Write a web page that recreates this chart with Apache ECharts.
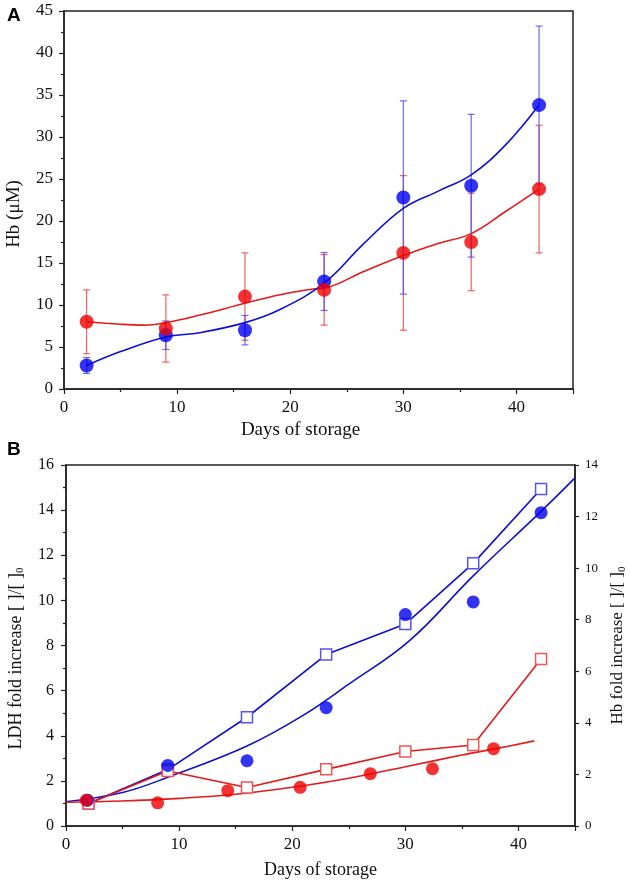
<!DOCTYPE html>
<html><head><meta charset="utf-8">
<script src="https://cdn.jsdelivr.net/npm/echarts@6/dist/echarts.min.js"></script>
<style>html,body{margin:0;padding:0;background:#fff}#c{width:630px;height:886px}</style>
</head><body><div id="c"></div>
<script>
// ---------- Panel A data ----------
const days = [2, 9, 16, 23, 30, 36, 42];
const hbBlue = [2.8, 6.4, 7.0, 12.8, 22.8, 24.2, 33.8];
const hbBlueErr = [0.95, 1.7, 1.75, 3.45, 11.5, 8.5, 9.4];
const hbRed = [8.0, 7.2, 11.0, 11.8, 16.2, 17.5, 23.8];
const hbRedErr = [3.8, 4.0, 5.2, 4.2, 9.2, 5.8, 7.6];
const fitADays = [2, 5, 9, 12, 16, 19, 23, 26.5, 30, 33, 36, 39, 42];
const fitABlue = [2.8, 4.45, 6.2, 6.7, 7.9, 9.4, 12.6, 17.3, 21.5, 23.5, 25.5, 29.0, 33.8];
const fitARedDays = [2, 5, 7, 9, 12, 16, 19, 22, 23, 26.5, 30, 33, 36, 39, 42];
const fitARed = [8.0, 7.7, 7.6, 7.9, 8.8, 10.2, 11.2, 11.9, 12.0, 14.0, 15.9, 17.3, 18.5, 21.1, 23.8];
// ---------- Panel B data ----------
const ldhDays = [2, 9, 16, 23, 30, 36, 42];
const ldhBlue = [1.0, 2.5, 4.82, 7.6, 8.95, 11.64, 14.94];
const ldhRed = [1.0, 2.44, 1.71, 2.51, 3.3, 3.59, 7.4];
const hbFoldBlueDays = [1.9, 9, 16, 23, 30, 36, 42];
const hbFoldBlue = [1.0, 2.35, 2.53, 4.59, 8.2, 8.69, 12.15];
const hbFoldRedDays = [1.8, 8.1, 14.3, 20.7, 26.9, 32.4, 37.8];
const hbFoldRed = [1.0, 0.9, 1.37, 1.5, 2.03, 2.22, 3.0];
const fitBBlueDays = [0, 5, 9, 16, 21, 25, 30.4, 36, 42, 45];
const fitBBlue = [0.94, 1.3, 1.89, 3.1, 4.3, 5.5, 7.2, 9.7, 12.2, 13.5];
const fitBRedDays = [0, 5, 10, 15, 20, 25, 30, 35, 38, 41.4];
const fitBRed = [0.92, 0.97, 1.07, 1.23, 1.5, 1.85, 2.3, 2.75, 3.0, 3.3];

const zip = (xs, ys) => xs.map((x, i) => [x, ys[i]]);
const errData = (xs, ys, es) => xs.map((x, i) => [x, ys[i] - es[i], ys[i] + es[i]]);

const FONT = '"Liberation Serif", "DejaVu Serif", serif';
const AX = '#222';

function errSeries(data, color) {
  return {
    type: 'custom', xAxisIndex: 0, yAxisIndex: 0, z: 2,
    data: data, encode: { x: 0, y: [1, 2] },
    renderItem: function (params, api) {
      const lo = api.coord([api.value(0), api.value(1)]);
      const hi = api.coord([api.value(0), api.value(2)]);
      const w = 3.5;
      const st = { stroke: color, lineWidth: 1.2 };
      return { type: 'group', children: [
        { type: 'line', shape: { x1: lo[0], y1: lo[1], x2: hi[0], y2: hi[1] }, style: st },
        { type: 'line', shape: { x1: lo[0] - w, y1: lo[1], x2: lo[0] + w, y2: lo[1] }, style: st },
        { type: 'line', shape: { x1: hi[0] - w, y1: hi[1], x2: hi[0] + w, y2: hi[1] }, style: st }
      ] };
    }
  };
}

function xAxisCfg(gi, gap, nameSize, pad) {
  return {
    type: 'value', gridIndex: gi, min: 0, max: 45, interval: 10,
    name: 'Days of storage', nameLocation: 'middle', nameGap: gap,
    nameTextStyle: { fontFamily: FONT, fontSize: nameSize, color: '#111', padding: pad },
    axisLine: { lineStyle: { color: AX, width: 1.5 } },
    axisTick: { lineStyle: { color: AX, width: 1.2 }, length: 5 },
    minorTick: { show: true, splitNumber: 2, length: 3, lineStyle: { color: AX, width: 1.2 } },
    axisLabel: { fontFamily: FONT, fontSize: 17, color: '#111', margin: 10, showMaxLabel: false },
    splitLine: { show: false }
  };
}

const chart = echarts.init(document.getElementById('c'));
chart.setOption({
  animation: false,
  backgroundColor: '#fff',
  graphic: [
    { type: 'text', left: 7, top: 6, style: { text: 'A', font: 'bold 19px "Liberation Sans", Arial, sans-serif', fill: '#000' } },
    { type: 'text', left: 7, top: 440, style: { text: 'B', font: 'bold 19px "Liberation Sans", Arial, sans-serif', fill: '#000' } }
  ],
  grid: [
    { left: 64, top: 11, width: 509, height: 378, show: true, borderColor: AX, borderWidth: 1.5, backgroundColor: 'transparent', containLabel: false, outerBoundsMode: 'none' },
    { left: 66, top: 465, width: 509, height: 361, show: true, borderColor: AX, borderWidth: 1.5, backgroundColor: 'transparent', containLabel: false, outerBoundsMode: 'none' }
  ],
  xAxis: [xAxisCfg(0, 32, 19, [0, 36, 0, 0]), xAxisCfg(1, 35, 18, 0)],
  yAxis: [
    {
      type: 'value', gridIndex: 0, min: 0, max: 45, interval: 5,
      name: 'Hb (μM)', nameLocation: 'middle', nameGap: 40, nameRotate: 90,
      nameTextStyle: { fontFamily: FONT, fontSize: 19, color: '#111', padding: [0, 28, 0, 0] },
      axisLine: { show: true, lineStyle: { color: AX, width: 1.5 } },
      axisTick: { show: true, lineStyle: { color: AX, width: 1.2 }, length: 5 },
      minorTick: { show: true, splitNumber: 2, length: 3, lineStyle: { color: AX, width: 1.2 } },
      axisLabel: { fontFamily: FONT, fontSize: 17, color: '#111', margin: 11 },
      splitLine: { show: false }
    },
    {
      type: 'value', gridIndex: 1, min: 0, max: 16, interval: 2,
      name: '{a|LDH fold increase [ ]/[ ]}{s|0}', nameLocation: 'middle', nameGap: 40, nameRotate: 90,
      nameTextStyle: { fontFamily: FONT, fontSize: 18, color: '#111', padding: [0, 26, 0, 0],
        rich: { a: { fontFamily: FONT, fontSize: 18, color: '#111' }, s: { fontFamily: FONT, fontSize: 11, color: '#111', verticalAlign: 'bottom', padding: [9, 0, 0, 0] } } },
      axisLine: { show: true, lineStyle: { color: AX, width: 1.5 } },
      axisTick: { show: true, lineStyle: { color: AX, width: 1.2 }, length: 5 },
      minorTick: { show: true, splitNumber: 2, length: 3, lineStyle: { color: AX, width: 1.2 } },
      axisLabel: { fontFamily: FONT, fontSize: 16, color: '#111', margin: 12 },
      splitLine: { show: false }
    },
    {
      type: 'value', gridIndex: 1, min: 0, max: 14, interval: 2, position: 'right',
      name: '{a|Hb fold increase [ ]/[ ]}{s|0}', nameLocation: 'middle', nameGap: 32, nameRotate: 90,
      nameTextStyle: { fontFamily: FONT, fontSize: 17, color: '#111',
        rich: { a: { fontFamily: FONT, fontSize: 17, color: '#111' }, s: { fontFamily: FONT, fontSize: 11, color: '#111', verticalAlign: 'bottom', padding: [9, 0, 0, 0] } } },
      axisLine: { show: true, lineStyle: { color: AX, width: 1.5 } },
      axisTick: { show: true, lineStyle: { color: AX, width: 1.2 }, length: 4 },
      axisLabel: { fontFamily: FONT, fontSize: 13, color: '#111', margin: 10 },
      splitLine: { show: false }
    }
  ],
  series: [
    // Panel A
    errSeries(errData(days, hbRed, hbRedErr), 'rgba(240,70,70,0.85)'),
    errSeries(errData(days, hbBlue, hbBlueErr), 'rgba(80,80,240,0.85)'),
    { type: 'line', xAxisIndex: 0, yAxisIndex: 0, data: zip(fitARedDays, fitARed), smooth: 0.4, showSymbol: false,
      lineStyle: { color: '#e31a1a', width: 1.6 }, z: 3 },
    { type: 'line', xAxisIndex: 0, yAxisIndex: 0, data: zip(fitADays, fitABlue), smooth: 0.4, showSymbol: false,
      lineStyle: { color: '#1010d0', width: 1.6 }, z: 3 },
    { type: 'scatter', xAxisIndex: 0, yAxisIndex: 0, data: zip(days, hbBlue), symbol: 'circle', symbolSize: 14,
      itemStyle: { color: '#0000f0' }, z: 4 },
    { type: 'scatter', xAxisIndex: 0, yAxisIndex: 0, data: zip(days, hbRed), symbol: 'circle', symbolSize: 14,
      itemStyle: { color: '#f00000' }, z: 4 },
    // Panel B
    { type: 'line', xAxisIndex: 1, yAxisIndex: 2, data: zip(fitBBlueDays, fitBBlue), smooth: 0.4, showSymbol: false,
      lineStyle: { color: '#1010c8', width: 1.6 }, z: 3 },
    { type: 'line', xAxisIndex: 1, yAxisIndex: 2, data: zip(fitBRedDays, fitBRed), smooth: 0.4, showSymbol: false,
      lineStyle: { color: '#e31a1a', width: 1.6 }, z: 3 },
    { type: 'line', xAxisIndex: 1, yAxisIndex: 1, data: zip(ldhDays, ldhBlue), symbol: 'rect', symbolSize: 11,
      lineStyle: { color: '#1010c8', width: 1.6 }, itemStyle: { color: '#fff', borderColor: '#5555ee', borderWidth: 1.5 }, z: 4 },
    { type: 'line', xAxisIndex: 1, yAxisIndex: 1, data: zip(ldhDays, ldhRed), symbol: 'rect', symbolSize: 11,
      lineStyle: { color: '#e31a1a', width: 1.6 }, itemStyle: { color: '#fff', borderColor: '#ee5555', borderWidth: 1.5 }, z: 4 },
    { type: 'scatter', xAxisIndex: 1, yAxisIndex: 2, data: zip(hbFoldBlueDays, hbFoldBlue), symbol: 'circle', symbolSize: 13,
      itemStyle: { color: '#0000f0' }, z: 5 },
    { type: 'scatter', xAxisIndex: 1, yAxisIndex: 2, data: zip(hbFoldRedDays, hbFoldRed), symbol: 'circle', symbolSize: 13,
      itemStyle: { color: '#f00000' }, z: 5 }
  ]
});
</script>
</body></html>
